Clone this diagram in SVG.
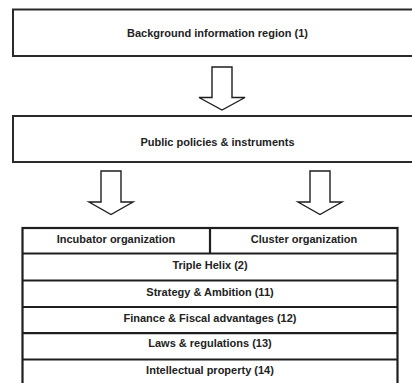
<svg xmlns="http://www.w3.org/2000/svg" width="412" height="383" viewBox="0 0 412 383">
<style>
.box{fill:#fff;stroke:#2a2a2a;stroke-width:2}
.line{stroke:#1e1e1e;stroke-width:2.2;fill:none}
.arrow{fill:#fff;stroke:#1e1e1e;stroke-width:1.4;stroke-linejoin:miter}
text{font-family:"Liberation Sans",Arial,sans-serif;font-weight:bold;font-size:11px;fill:#222;text-anchor:middle}
</style>
<rect width="412" height="383" fill="#fff"/>
<g id="background">
<rect class="box" x="13" y="9.5" width="409" height="46.5"/>
<text x="217.5" y="37">Background information region (1)</text>
</g>
<g id="policies">
<rect class="box" x="13" y="116" width="409" height="46"/>
<text x="217.5" y="146">Public policies &amp; instruments</text>
</g>
<g id="connectors">
<polygon class="arrow" points="212,67 232,67 232,97.5 245,97.5 222,110 199,97.5 212,97.5"/>
<polygon class="arrow" points="101,171 121,171 121,202 133,202 111,214.5 89,202 101,202"/>
<polygon class="arrow" points="310,171 330,171 330,202 342,202 320,214.5 298,202 310,202"/>
</g>
<g id="table">
<rect class="line" x="22.5" y="228" width="375" height="160" fill="#fff"/>
<line class="line" x1="210" y1="228" x2="210" y2="253.5"/>
<line class="line" x1="22.5" y1="253.5" x2="397.5" y2="253.5"/>
<line class="line" x1="22.5" y1="280.5" x2="397.5" y2="280.5"/>
<line class="line" x1="22.5" y1="307" x2="397.5" y2="307"/>
<line class="line" x1="22.5" y1="333.2" x2="397.5" y2="333.2"/>
<line class="line" x1="22.5" y1="359.5" x2="397.5" y2="359.5"/>
</g>
<g id="incubator"><text x="116" y="242.5">Incubator organization</text></g>
<g id="cluster"><text x="304" y="242.5">Cluster organization</text></g>
<g id="triple-helix"><text x="210" y="269">Triple Helix (2)</text></g>
<g id="strategy"><text x="210" y="295.5">Strategy &amp; Ambition (11)</text></g>
<g id="finance"><text x="210" y="321.5">Finance &amp; Fiscal advantages (12)</text></g>
<g id="laws"><text x="210" y="347">Laws &amp; regulations (13)</text></g>
<g id="ip"><text x="210" y="373.5">Intellectual property (14)</text></g>
</svg>
